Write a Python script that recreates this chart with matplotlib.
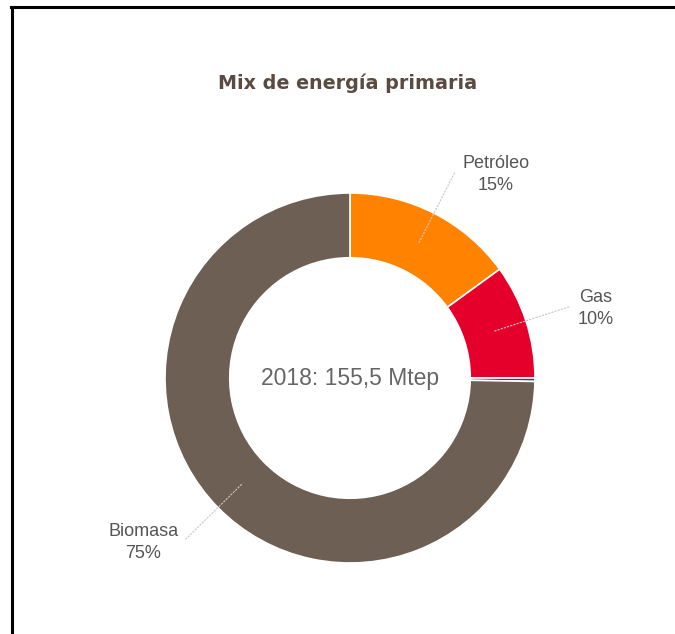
import numpy as np
import matplotlib.pyplot as plt
from matplotlib.lines import Line2D

plt.rcParams['font.family'] = ['Liberation Sans', 'DejaVu Sans']

labels = ["Petróleo", "Gas", "Otros", "Biomasa"]
values = [15.0, 10.0, 0.3, 74.7]
colors = ["#FF8300", "#E4002B", "#3A4658", "#6D5F54"]
show_label = [True, True, False, True]
title = "Mix de energía primaria"
center_text = "2018: 155,5 Mtep"

W, H = 675, 634
cx, cy, R = 350, 378, 185  # pixel centre and radius of the ring

fig = plt.figure(figsize=(W / 100, H / 100), dpi=100)
box = 2.8 * R
ax = fig.add_axes([(cx - box / 2) / W, (H - cy - box / 2) / H, box / W, box / H])

wedges, _ = ax.pie(values, colors=colors, startangle=90, counterclock=False,
                   radius=1, wedgeprops=dict(width=0.35, edgecolor='white', linewidth=1.2))
lim = box / 2 / R
ax.set_xlim(-lim, lim)
ax.set_ylim(-lim, lim)
ax.set_aspect('equal')
ax.axis('off')

total = sum(values)
for w, lab, v, show in zip(wedges, labels, values, show_label):
    if not show:
        continue
    ang = np.deg2rad((w.theta1 + w.theta2) / 2)
    x0, y0 = 0.82 * np.cos(ang), 0.82 * np.sin(ang)
    x1, y1 = 1.25 * np.cos(ang), 1.25 * np.sin(ang)
    ax.plot([x0, x1], [y0, y1], color='#c8c8c8', lw=0.8, ls=(0, (2, 1)))
    right = np.cos(ang) >= 0
    gap = 0.04 if right else -0.035
    ax.text(x1 + gap, y1 - 0.012, f"{lab}\n{round(v / total * 100):.0f}%",
            ha='left' if right else 'right', va='center', multialignment='center',
            fontsize=13, color='#555555', linespacing=1.4)

ax.text(0, 0, center_text, ha='center', va='center', fontsize=16.5, color='#666666')

fig.text(348 / W, 1 - 83 / H, title, ha='center', va='center', fontsize=13.8,
         fontweight='bold', color='#5A4B42', family='DejaVu Sans')

# frame lines at top and left
fig.add_artist(Line2D([11 / W, 1], [1 - 6.5 / H, 1 - 6.5 / H], color='black', lw=2.2,
                      transform=fig.transFigure))
fig.add_artist(Line2D([12 / W, 12 / W], [0, 1 - 6.5 / H], color='black', lw=2.2,
                      transform=fig.transFigure))

fig.savefig("out.png", dpi=100)
